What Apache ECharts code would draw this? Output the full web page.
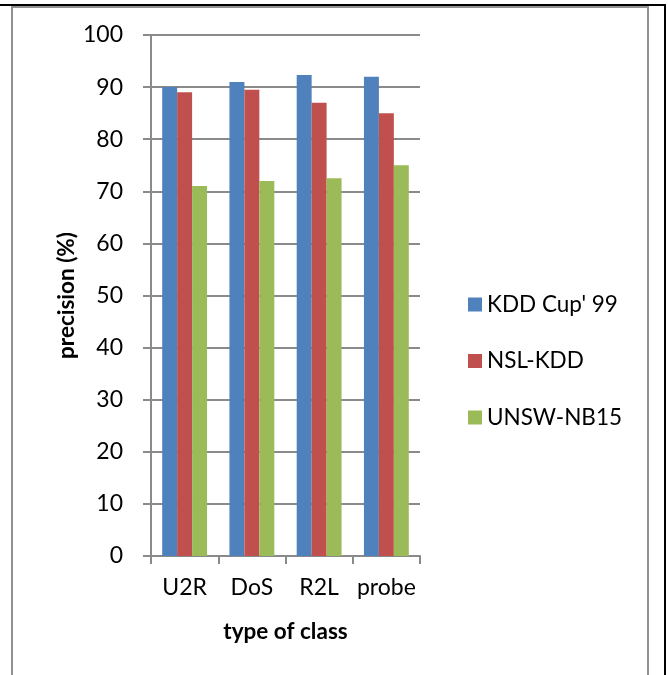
<!DOCTYPE html>
<html>
<head>
<meta charset="utf-8">
<script src="https://cdn.jsdelivr.net/npm/echarts@6/dist/echarts.min.js"></script>
<style>
  html, body { margin: 0; padding: 0; background: #fff; }
  #chart { width: 668px; height: 675px; }
</style>
</head>
<body>
<div id="chart"></div>
<script>
// Attack classes on the x axis
const categories = ['U2R', 'DoS', 'R2L', 'probe'];

// Precision (%) per dataset
const kddCup99 = [90, 91, 92.3, 92];
const nslKdd = [89, 89.5, 87, 85];
const unswNb15 = [71, 72, 72.5, 75];

const seriesNames = ['KDD Cup\' 99', 'NSL-KDD', 'UNSW-NB15'];
const seriesColors = ['#4F81BD', '#C0504D', '#9BBB59'];

const FONT = 'Lato, "Open Sans", sans-serif';
const GRAY = '#8a8a8a';

const chart = echarts.init(document.getElementById('chart'), null, { renderer: 'canvas' });

const values = [kddCup99, nslKdd, unswNb15];

chart.setOption({
  animation: false,
  backgroundColor: '#ffffff',
  textStyle: { fontFamily: FONT },
  graphic: [
    // outer frame
    { type: 'line', shape: { x1: 0, y1: 5, x2: 666, y2: 5 }, style: { stroke: '#000', lineWidth: 2 } },
    { type: 'line', shape: { x1: 665, y1: 4, x2: 665, y2: 675 }, style: { stroke: '#000', lineWidth: 2 } },
    // chart area border
    { type: 'polyline', shape: { points: [[12, 675], [12, 7], [648, 7], [648, 675]] }, style: { stroke: '#919191', lineWidth: 2, fill: null } }
  ],
  grid: { left: 151, right: 248, top: 35, bottom: 119, containLabel: false },
  legend: {
    orient: 'vertical',
    left: 463,
    top: 288,
    itemWidth: 14,
    itemHeight: 14,
    itemGap: 33.5,
    icon: 'rect',
    textStyle: { fontFamily: FONT, fontSize: 22.5, color: '#000', lineHeight: 14, padding: [0, 0, 0, 0] },
    data: seriesNames
  },
  xAxis: {
    type: 'category',
    data: categories,
    name: 'type of class',
    nameLocation: 'middle',
    nameGap: 64,
    nameTextStyle: { fontFamily: FONT, fontSize: 22.5, fontWeight: 'bold', color: '#000' },
    axisLine: { show: true, lineStyle: { color: GRAY, width: 2 } },
    axisTick: { show: true, length: 8, alignWithLabel: false, lineStyle: { color: GRAY, width: 2 } },
    axisLabel: { fontFamily: FONT, fontSize: 23, color: '#000', margin: 20, interval: 0 },
    splitLine: { show: false }
  },
  yAxis: {
    type: 'value',
    min: 0,
    max: 100,
    interval: 10,
    name: 'precision (%)',
    nameLocation: 'middle',
    nameGap: 73,
    nameRotate: 90,
    nameTextStyle: { fontFamily: FONT, fontSize: 22.5, fontWeight: 'bold', color: '#000' },
    axisLine: { show: true, lineStyle: { color: GRAY, width: 2 } },
    axisTick: { show: true, inside: false, length: 8, lineStyle: { color: GRAY, width: 2 } },
    axisLabel: { fontFamily: FONT, fontSize: 23, color: '#000', margin: 28 },
    splitLine: { show: true, lineStyle: { color: GRAY, width: 2 } }
  },
  series: seriesNames.map((name, i) => ({
    name: name,
    type: 'bar',
    data: values[i],
    barGap: '0%',
    barCategoryGap: '33.3%',
    itemStyle: { color: seriesColors[i] }
  }))
});
</script>
</body>
</html>
